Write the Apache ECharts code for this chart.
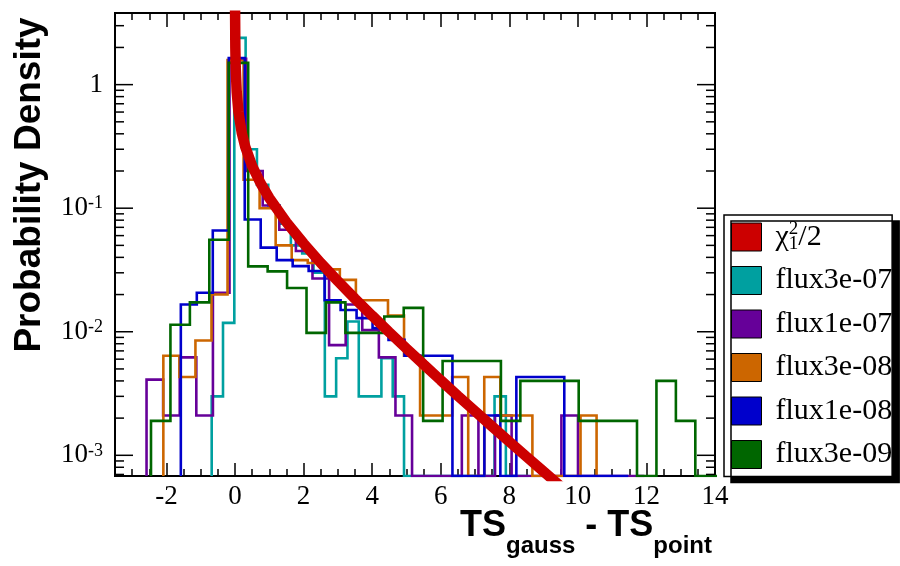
<!DOCTYPE html>
<html><head><meta charset="utf-8">
<script src="https://cdn.jsdelivr.net/npm/echarts@6/dist/echarts.min.js"></script>
<style>html,body{margin:0;padding:0;background:#fff}#c{width:900px;height:566px}</style>
</head><body><div id="c"></div>
<script>
// ---- axis ranges ----
const X_MIN = -3.5, X_MAX = 14;
const Y_MIN = 6.8e-4, Y_MAX = 3.8;

// ---- series names / legend ----
const CHI_NAME = 'chi2_1/2';
const histNames = ['flux3e-07', 'flux1e-07', 'flux3e-08', 'flux1e-08', 'flux3e-09'];
const histColors = ['#00a0a0', '#660099', '#cc6600', '#0000cc', '#006600'];
const chiColor = '#cc0000';

// ---- histogram binning: [first bin edge, bin width] ----
const cyanBin = [-0.68, 0.33];
const purpleBin = [-2.58, 0.484];
const orangeBin = [-2.09, 0.468];
const blueBin = [-1.58, 0.466];
const greenBin = [-2.45, 0.567];

// ---- histogram contents (probability density per bin, 0 = empty bin) ----
const cyanVals = [0.0030, 0.0118, 2.39, 0.30, 0.155, 0.105, 0.075, 0.050, 0.043, 0.030, 0.0030, 0.0061, 0.0121, 0.0030, 0.0030, 0.0061, 0.0030, 0, 0, 0, 0, 0, 0, 0, 0, 0.0030, 0, 0];
const purpleVals = [0.0041, 0.0021, 0.0062, 0.0021, 0.0207, 1.62, 0.20, 0.105, 0.067, 0.045, 0.027, 0.0078, 0.0166, 0.0103, 0.0062, 0.0021, 0, 0, 0, 0.0021, 0, 0.0021, 0, 0, 0, 0.0021, 0, 0, 0, 0];
const orangeVals = [0.0064, 0.0043, 0.0085, 0.020, 1.58, 0.17, 0.10, 0.050, 0.038, 0.036, 0.032, 0.0263, 0.018, 0.018, 0.0135, 0.0064, 0.0021, 0.0021, 0.0043, 0, 0.0043, 0.0021, 0.0021, 0, 0, 0, 0.0021];
const blueVals = [0.0166, 0.0207, 0.066, 1.64, 0.081, 0.048, 0.038, 0.034, 0.031, 0.018, 0.0150, 0.0129, 0.0107, 0.0086, 0.0064, 0.0064, 0.0064, 0, 0, 0.0021, 0, 0.0043, 0.0043, 0.0043, 0, 0, 0, 0];
const greenVals = [0.0019, 0.0114, 0.0173, 0.0556, 1.50, 0.0338, 0.0308, 0.0226, 0.0098, 0.0173, 0.0098, 0.0098, 0.0133, 0.0156, 0.0019, 0.0058, 0.0058, 0.0058, 0.0019, 0.0040, 0.0040, 0.0040, 0.0019, 0.0019, 0.0019, 0, 0.0040, 0.0019, 0, 0];

// ---- chi2_1 / 2 curve: x and density ----
const chiX = [0.0025, 0.01, 0.02, 0.05, 0.1, 0.2, 0.3, 0.5, 0.75, 1, 1.5, 2, 2.5, 3, 3.5, 4, 4.5, 5, 5.5, 6, 6.5, 7, 7.5, 8, 8.5, 9, 9.5];
const chiY = [3.98, 1.985, 1.396, 0.870, 0.600, 0.4036, 0.3135, 0.2197, 0.1583, 0.1210, 0.0769, 0.0519, 0.0361, 0.0257, 0.0185, 0.0135, 0.00991, 0.00732, 0.00544, 0.00405, 0.00303, 0.00228, 0.00171, 0.00129, 0.000976, 0.000739, 0.000560];

// ---- log-axis tick positions (decade exponents, mantissas) ----
const yDecades = [-4, -3, -2, -1, 0];
const yMantissas = [1, 2, 3, 4, 5, 6, 7, 8, 9];

const histBins = [cyanBin, purpleBin, orangeBin, blueBin, greenBin];
const histVals = [cyanVals, purpleVals, orangeVals, blueVals, greenVals];

// empty bins sit on the lower edge of the log frame, as ROOT draws them
function histPoints(bin, vals) {
  const pts = [[bin[0], Y_MIN]];
  for (let i = 0; i < vals.length; i++) {
    pts.push([bin[0] + i * bin[1], vals[i] > 0 ? vals[i] : Y_MIN]);
  }
  const endX = bin[0] + vals.length * bin[1];
  const last = vals[vals.length - 1];
  pts.push([endX, last > 0 ? last : Y_MIN]);
  pts.push([endX, Y_MIN]);
  return pts;
}

const serif = '"Liberation Serif", "Times New Roman", serif';
const sans = '"Liberation Sans", Arial, sans-serif';

const series = [];
histNames.forEach((n, i) => {
  series.push({
    name: n, type: 'line', step: 'end', showSymbol: false, symbol: 'none',
    data: histPoints(histBins[i], histVals[i]),
    color: histColors[i],
    lineStyle: { width: 2.6, color: histColors[i], join: 'miter' },
    clip: true, silent: true, animation: false, z: 2 + i
  });
});
series.push({
  name: CHI_NAME, type: 'line', showSymbol: false, symbol: 'none', smooth: false,
  data: chiX.map((x, i) => [x, chiY[i]]),
  color: chiColor,
  lineStyle: { width: 10.5, color: chiColor, cap: 'butt' },
  clip: true, silent: true, animation: false, z: 10
});
// log-axis major/minor ticks on the left and right frame edges
series.push({
  type: 'custom', silent: true, animation: false, clip: false, z: 12,
  data: [[0, 1]],
  renderItem: function (params, api) {
    const children = [];
    yDecades.forEach(d => {
      yMantissas.forEach(k => {
        const v = k * Math.pow(10, d);
        if (v <= Y_MIN || v >= Y_MAX) return;
        const len = k === 1 ? 18 : 9;
        const pl = api.coord([X_MIN, v]);
        const pr = api.coord([X_MAX, v]);
        children.push({ type: 'line', shape: { x1: pl[0], y1: pl[1], x2: pl[0] + len, y2: pl[1] }, style: { stroke: '#000', lineWidth: 1.5 } });
        children.push({ type: 'line', shape: { x1: pr[0], y1: pr[1], x2: pr[0] - len, y2: pr[1] }, style: { stroke: '#000', lineWidth: 1.5 } });
      });
    });
    return { type: 'group', children: children };
  }
});

const legendData = [CHI_NAME].concat(histNames);

const chart = echarts.init(document.getElementById('c'), null, { renderer: 'canvas' });
chart.setOption({
  backgroundColor: '#fff',
  animation: false,
  grid: { left: 115, top: 13, width: 600, height: 463, show: true, borderColor: '#000', borderWidth: 2, backgroundColor: 'transparent' },
  xAxis: [{
    type: 'value', min: X_MIN, max: X_MAX, splitNumber: 9, position: 'bottom',
    axisLine: { show: false },
    axisTick: { show: true, inside: true, length: 13, lineStyle: { color: '#000', width: 1.5 } },
    minorTick: { show: true, splitNumber: 4, length: 7, lineStyle: { color: '#000', width: 1.5 } },
    splitLine: { show: false },
    axisLabel: { showMinLabel: false, color: '#000', fontFamily: serif, fontSize: 27, margin: 7 }
  }, {
    type: 'value', min: X_MIN, max: X_MAX, splitNumber: 9, position: 'top',
    axisLine: { show: false },
    axisTick: { show: true, inside: true, length: 14, lineStyle: { color: '#000', width: 1.5 } },
    minorTick: { show: true, splitNumber: 4, length: 7, lineStyle: { color: '#000', width: 1.5 } },
    splitLine: { show: false },
    axisLabel: { show: false }
  }],
  yAxis: {
    type: 'log', logBase: 10, min: Y_MIN, max: Y_MAX,
    axisLine: { show: false }, axisTick: { show: false }, splitLine: { show: false },
    axisLabel: {
      showMinLabel: false, showMaxLabel: false, margin: 12, color: '#000',
      formatter: function (v) {
        const e = Math.round(Math.log10(v));
        if (e === 0) return '{b|1}';
        return '{b|10}{s|' + e + '}';
      },
      rich: {
        b: { fontFamily: serif, fontSize: 27, lineHeight: 27, color: '#000' },
        s: { fontFamily: serif, fontSize: 18, lineHeight: 12, verticalAlign: 'top', color: '#000' }
      }
    }
  },
  legend: {
    orient: 'vertical', left: 724, top: 215,
    data: legendData, icon: 'rect', itemWidth: 30, itemHeight: 28, itemGap: 9.5,
    padding: [5, 0, 5, 7],
    backgroundColor: '#fff', borderColor: '#000', borderWidth: 1.5,
    shadowColor: '#000', shadowBlur: 0, shadowOffsetX: 7, shadowOffsetY: 6,
    selectedMode: false,
    itemStyle: { borderColor: '#000', borderWidth: 1 },
    textStyle: {
      fontFamily: serif, fontSize: 30, lineHeight: 34, color: '#000',
      padding: [0, 0, 0, 9],
      rich: {
        g: { fontFamily: serif, fontSize: 30, lineHeight: 34, color: '#000' },
        sup: { fontFamily: serif, fontSize: 19, lineHeight: 22, verticalAlign: 'top', width: 0.01, color: '#000' },
        sub: { fontFamily: serif, fontSize: 19, lineHeight: 6, verticalAlign: 'bottom', color: '#000' }
      }
    },
    formatter: function (name) {
      if (name === CHI_NAME) return '{g|χ}{sup|2}{sub|1}{g|/2}';
      return name;
    }
  },
  graphic: [
    { type: 'text', x: 30, y: 185, rotation: Math.PI / 2,
      style: { text: 'Probability Density', font: 'bold 37px ' + sans, fill: '#000', align: 'center', verticalAlign: 'middle' } },
    { type: 'text', x: 712, y: 508,
      style: {
        text: '{b|TS}{s|gauss}{b| - TS}{s|point}', align: 'right', verticalAlign: 'top', fill: '#000',
        rich: {
          b: { fontFamily: sans, fontWeight: 'bold', fontSize: 36, lineHeight: 36, verticalAlign: 'top', fill: '#000' },
          s: { fontFamily: sans, fontWeight: 'bold', fontSize: 24, lineHeight: 24, verticalAlign: 'top', padding: [26, 0, 0, 0], fill: '#000' }
        }
      } }
  ],
  series: series
});
</script>
</body></html>
